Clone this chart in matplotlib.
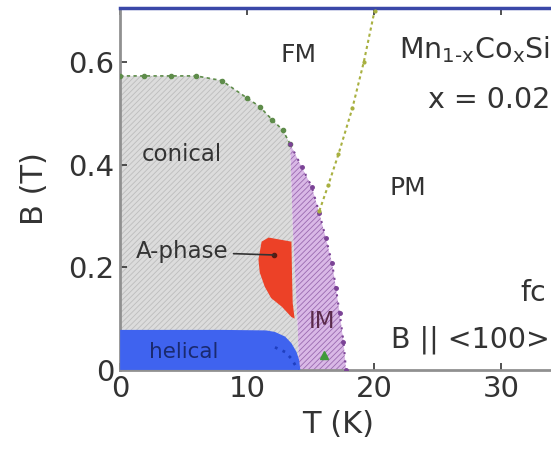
import matplotlib
matplotlib.use('Agg')
import matplotlib.pyplot as plt

plt.rcParams['font.family'] = ['DejaVu Sans']
plt.rcParams['mathtext.fontset'] = 'dejavusans'
plt.rcParams['hatch.linewidth'] = 0.6

# conical boundary (green dots)
conical_T = [0, 1.9, 4.0, 6.0, 8.0, 10.0, 11.0, 12.0, 12.8, 13.4]
conical_B = [0.573, 0.573, 0.573, 0.573, 0.564, 0.53, 0.513, 0.487, 0.468, 0.44]

# IM pocket, left and right edges
im_left_T = [13.4, 13.5, 13.6, 13.8, 14.0, 14.1]
im_left_B = [0.44, 0.36, 0.28, 0.18, 0.08, 0.0]
im_right_T = [13.4, 14.3, 15.1, 15.7, 16.2, 16.7, 17.0, 17.3, 17.6, 17.8]
im_right_B = [0.44, 0.396, 0.357, 0.305, 0.258, 0.208, 0.16, 0.11, 0.055, 0.0]

# FM / PM crossover
fmpm_T = [15.7, 16.4, 17.2, 18.3, 19.2, 20.05]
fmpm_B = [0.31, 0.36, 0.42, 0.51, 0.60, 0.70]

# A-phase pocket
aphase_T = [11.15, 11.7, 13.5, 13.55, 13.6, 13.75, 13.5, 12.75, 11.9, 11.4, 11.0, 10.9]
aphase_B = [0.25, 0.258, 0.25, 0.18, 0.13, 0.10, 0.103, 0.123, 0.14, 0.162, 0.19, 0.215]

# helical region
helical_T = [0, 4.0, 8.0, 11.5, 12.2, 13.0, 13.5, 13.9, 14.1, 14.2]
helical_B = [0.078, 0.078, 0.078, 0.077, 0.074, 0.065, 0.052, 0.035, 0.02, 0.0]

arrow_T, arrow_B = 16.1, 0.03
pointer_T, pointer_B = 12.1, 0.224

fig = plt.figure(figsize=(5.51, 4.55), dpi=100)
ax = fig.add_axes([0.218, 0.187, 0.79, 0.795])

# conical (gray hatched)
ax.fill(conical_T + im_left_T[1:] + [0], conical_B + im_left_B[1:] + [0],
        facecolor='#dcdcdc', edgecolor='#bdbdbd', hatch='//////', linewidth=0, zorder=1)
ax.plot(conical_T, conical_B, color='#5e8c4a', ls=(0, (2, 2)), lw=1.2,
        marker='o', ms=3, zorder=4)

# IM (purple hatched)
ax.fill(im_left_T + im_right_T[::-1], im_left_B + im_right_B[::-1],
        facecolor='#d9b8e6', edgecolor='#9a6ab0', hatch='//////', linewidth=0, zorder=2)
ax.plot(im_right_T, im_right_B, color='#7b4396', ls=(0, (1, 3)), lw=1.5,
        marker='o', ms=2.5, zorder=4)

# helical (blue)
ax.fill(helical_T + [0], helical_B + [0], color='#3f63ef', lw=0, zorder=3)
ax.plot(helical_T[4:], [b - 0.03 for b in helical_B[4:]], color='#1f3fc0',
        ls=(0, (1, 2)), lw=2, zorder=4)

# A-phase (red)
ax.fill(aphase_T, aphase_B, color='#ec4127', lw=0, zorder=3)

# FM/PM crossover
ax.plot(fmpm_T, fmpm_B, color='#a8b040', ls=(0, (1.5, 1.5)), lw=1.5,
        marker='o', ms=2, zorder=4, clip_on=False)

ax.plot([arrow_T], [arrow_B], marker='^', color='#3f9a3a', ms=6, zorder=5)
ax.plot([pointer_T], [pointer_B], marker='o', color='#5a1a10', ms=3, zorder=5)
ax.annotate('A-phase', xy=(pointer_T, pointer_B), xytext=(1.2, 0.23),
            fontsize=16.5, color='#333333', va='center', ha='left',
            arrowprops=dict(arrowstyle='-', color='#333333', lw=1.2,
                            shrinkA=2, shrinkB=0), zorder=6)

tc = '#333333'
ax.text(14.1, 0.614, 'FM', fontsize=18, color=tc, ha='center', va='center')
ax.text(22.7, 0.355, 'PM', fontsize=18, color=tc, ha='center', va='center')
ax.text(4.9, 0.419, 'conical', fontsize=16.5, color=tc, ha='center', va='center')
ax.text(15.9, 0.094, 'IM', fontsize=16.5, color='#5a2a4a', ha='center', va='center', zorder=6)
ax.text(5.0, 0.035, 'helical', fontsize=15.5, color='#1a2a70', ha='center', va='center', zorder=6)
ax.text(33.9, 0.624, r'Mn$_{\mathrm{1\text{-}x}}$Co$_{\mathrm{x}}$Si', fontsize=20.5,
        color=tc, ha='right', va='center')
ax.text(33.9, 0.526, 'x = 0.02', fontsize=20.5, color=tc, ha='right', va='center')
ax.text(33.6, 0.15, 'fc', fontsize=20.5, color=tc, ha='right', va='center')
ax.text(33.9, 0.058, 'B || <100>', fontsize=20.5, color=tc, ha='right', va='center')

ax.set_xlim(0, 34.3)
ax.set_ylim(0, 0.705)
ax.set_xticks([0, 10, 20, 30])
ax.set_yticks([0, 0.2, 0.4, 0.6])
ax.set_yticklabels(['0', '0.2', '0.4', '0.6'])
ax.tick_params(direction='in', length=5, width=1.2, color='#333333',
               labelsize=21, labelcolor=tc, top=True, pad=4)
ax.set_xlabel('T (K)', fontsize=22, color=tc, labelpad=5)
ax.set_ylabel('B (T)', fontsize=22, color=tc, labelpad=14)

for s in ['left', 'bottom']:
    ax.spines[s].set_color('#909090')
    ax.spines[s].set_linewidth(2)
ax.spines['top'].set_color('#3a48a8')
ax.spines['top'].set_linewidth(2.5)
ax.spines['right'].set_visible(False)

fig.savefig('out.png', dpi=100)
